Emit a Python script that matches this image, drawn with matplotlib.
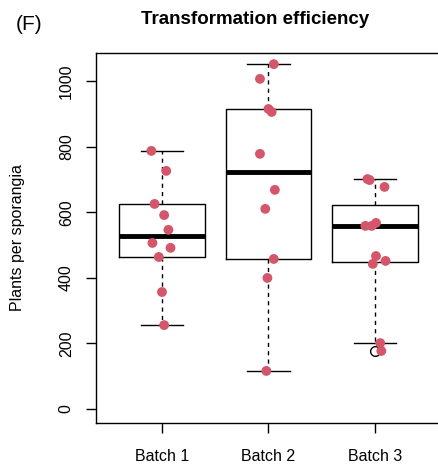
import numpy as np
import matplotlib as mpl
from matplotlib import pyplot as plt

FIGSIZE = [4.39, 4.65]
DPI = 100
POINT_COLOR = "#D4566B"

BATCHES = ["Batch 1", "Batch 2", "Batch 3"]
BATCH1 = [788, 727, 626, 592, 547, 507, 492, 464, 357, 256]
BATCH2 = [1053, 1008, 916, 907, 779, 669, 611, 458, 400, 116]
BATCH3 = [702, 699, 678, 559, 559, 568, 467, 452, 443, 201, 177]
# horizontal jitter of the dots
JITTER1 = [-0.10, 0.04, -0.07, 0.02, 0.06, -0.09, 0.08, -0.03, 0.0, 0.02]
JITTER2 = [0.05, -0.08, 0.0, 0.03, -0.08, 0.06, -0.03, 0.05, -0.01, -0.02]
JITTER3 = [-0.07, -0.05, 0.09, -0.09, -0.03, 0.01, 0.01, 0.10, -0.02, 0.05, 0.06]
YTICKS = [0, 200, 400, 600, 800, 1000]


def tukey_stats(values, label):
    # R style boxplot.stats: hinges from fivenum, whiskers at 1.5 * IQR
    x = np.sort(np.asarray(values, dtype=float))
    n = len(x)
    n4 = np.floor((n + 3) / 2) / 2
    idx = np.array([1, n4, (n + 1) / 2, n + 1 - n4, n]) - 1
    five = 0.5 * (x[np.floor(idx).astype(int)] + x[np.ceil(idx).astype(int)])
    iqr = five[3] - five[1]
    lo, hi = five[1] - 1.5 * iqr, five[3] + 1.5 * iqr
    inside = x[(x >= lo) & (x <= hi)]
    return {
        "label": label,
        "med": five[2],
        "q1": five[1],
        "q3": five[3],
        "whislo": inside.min(),
        "whishi": inside.max(),
        "fliers": x[(x < lo) | (x > hi)],
    }


def main():
    mpl.rcParams["font.family"] = ["Liberation Sans", "DejaVu Sans"]
    fig = plt.figure(figsize=FIGSIZE, dpi=DPI)
    ax = fig.add_axes([96 / 439, 42 / 465, 346 / 439, 370 / 465])

    data = [BATCH1, BATCH2, BATCH3]
    jitter = [JITTER1, JITTER2, JITTER3]
    stats = [tukey_stats(d, b) for d, b in zip(data, BATCHES)]
    positions = np.arange(1, len(BATCHES) + 1)
    ax.bxp(
        stats,
        positions=positions,
        widths=0.8,
        boxprops=dict(color="black", linewidth=1.0),
        medianprops=dict(color="black", linewidth=3.5, solid_capstyle="butt"),
        whiskerprops=dict(color="black", linewidth=1.0, linestyle=(0, (3, 3))),
        capprops=dict(color="black", linewidth=1.0),
        capwidths=0.4,
        flierprops=dict(marker="o", markerfacecolor="none",
                        markeredgecolor="black", markersize=7, markeredgewidth=1.0),
        zorder=2,
    )
    for pos, vals, jit in zip(positions, data, jitter):
        ax.scatter(pos + np.array(jit), vals, s=50, color=POINT_COLOR,
                   edgecolors="none", zorder=3)

    ax.set_xlim(0.38, 3.63)
    ax.set_ylim(-43, 1087)
    ax.set_yticks(YTICKS)
    ax.set_yticklabels([str(t) for t in YTICKS], rotation=90, va="center")
    ax.set_xticks(positions)
    ax.set_xticklabels(BATCHES)
    ax.tick_params(axis="both", labelsize=11.5, length=7, width=1.0)
    ax.tick_params(axis="y", pad=9)
    ax.tick_params(axis="x", pad=12)
    ax.set_ylabel("Plants per sporangia", fontsize=11.5, labelpad=24)
    for s in ax.spines.values():
        s.set_linewidth(1.0)
    # the frame is cut off at the right edge of the reference image
    ax.spines["right"].set_visible(False)

    fig.text(255 / 439, 1 - 19 / 465, "Transformation efficiency",
             ha="center", va="center", fontsize=13.5, fontweight="bold")
    fig.text(16 / 439, 1 - 24 / 465, "(F)", ha="left", va="center", fontsize=15)

    fig.savefig("out.png", dpi=DPI)
    plt.close(fig=fig)


if __name__ == "__main__":
    main()
